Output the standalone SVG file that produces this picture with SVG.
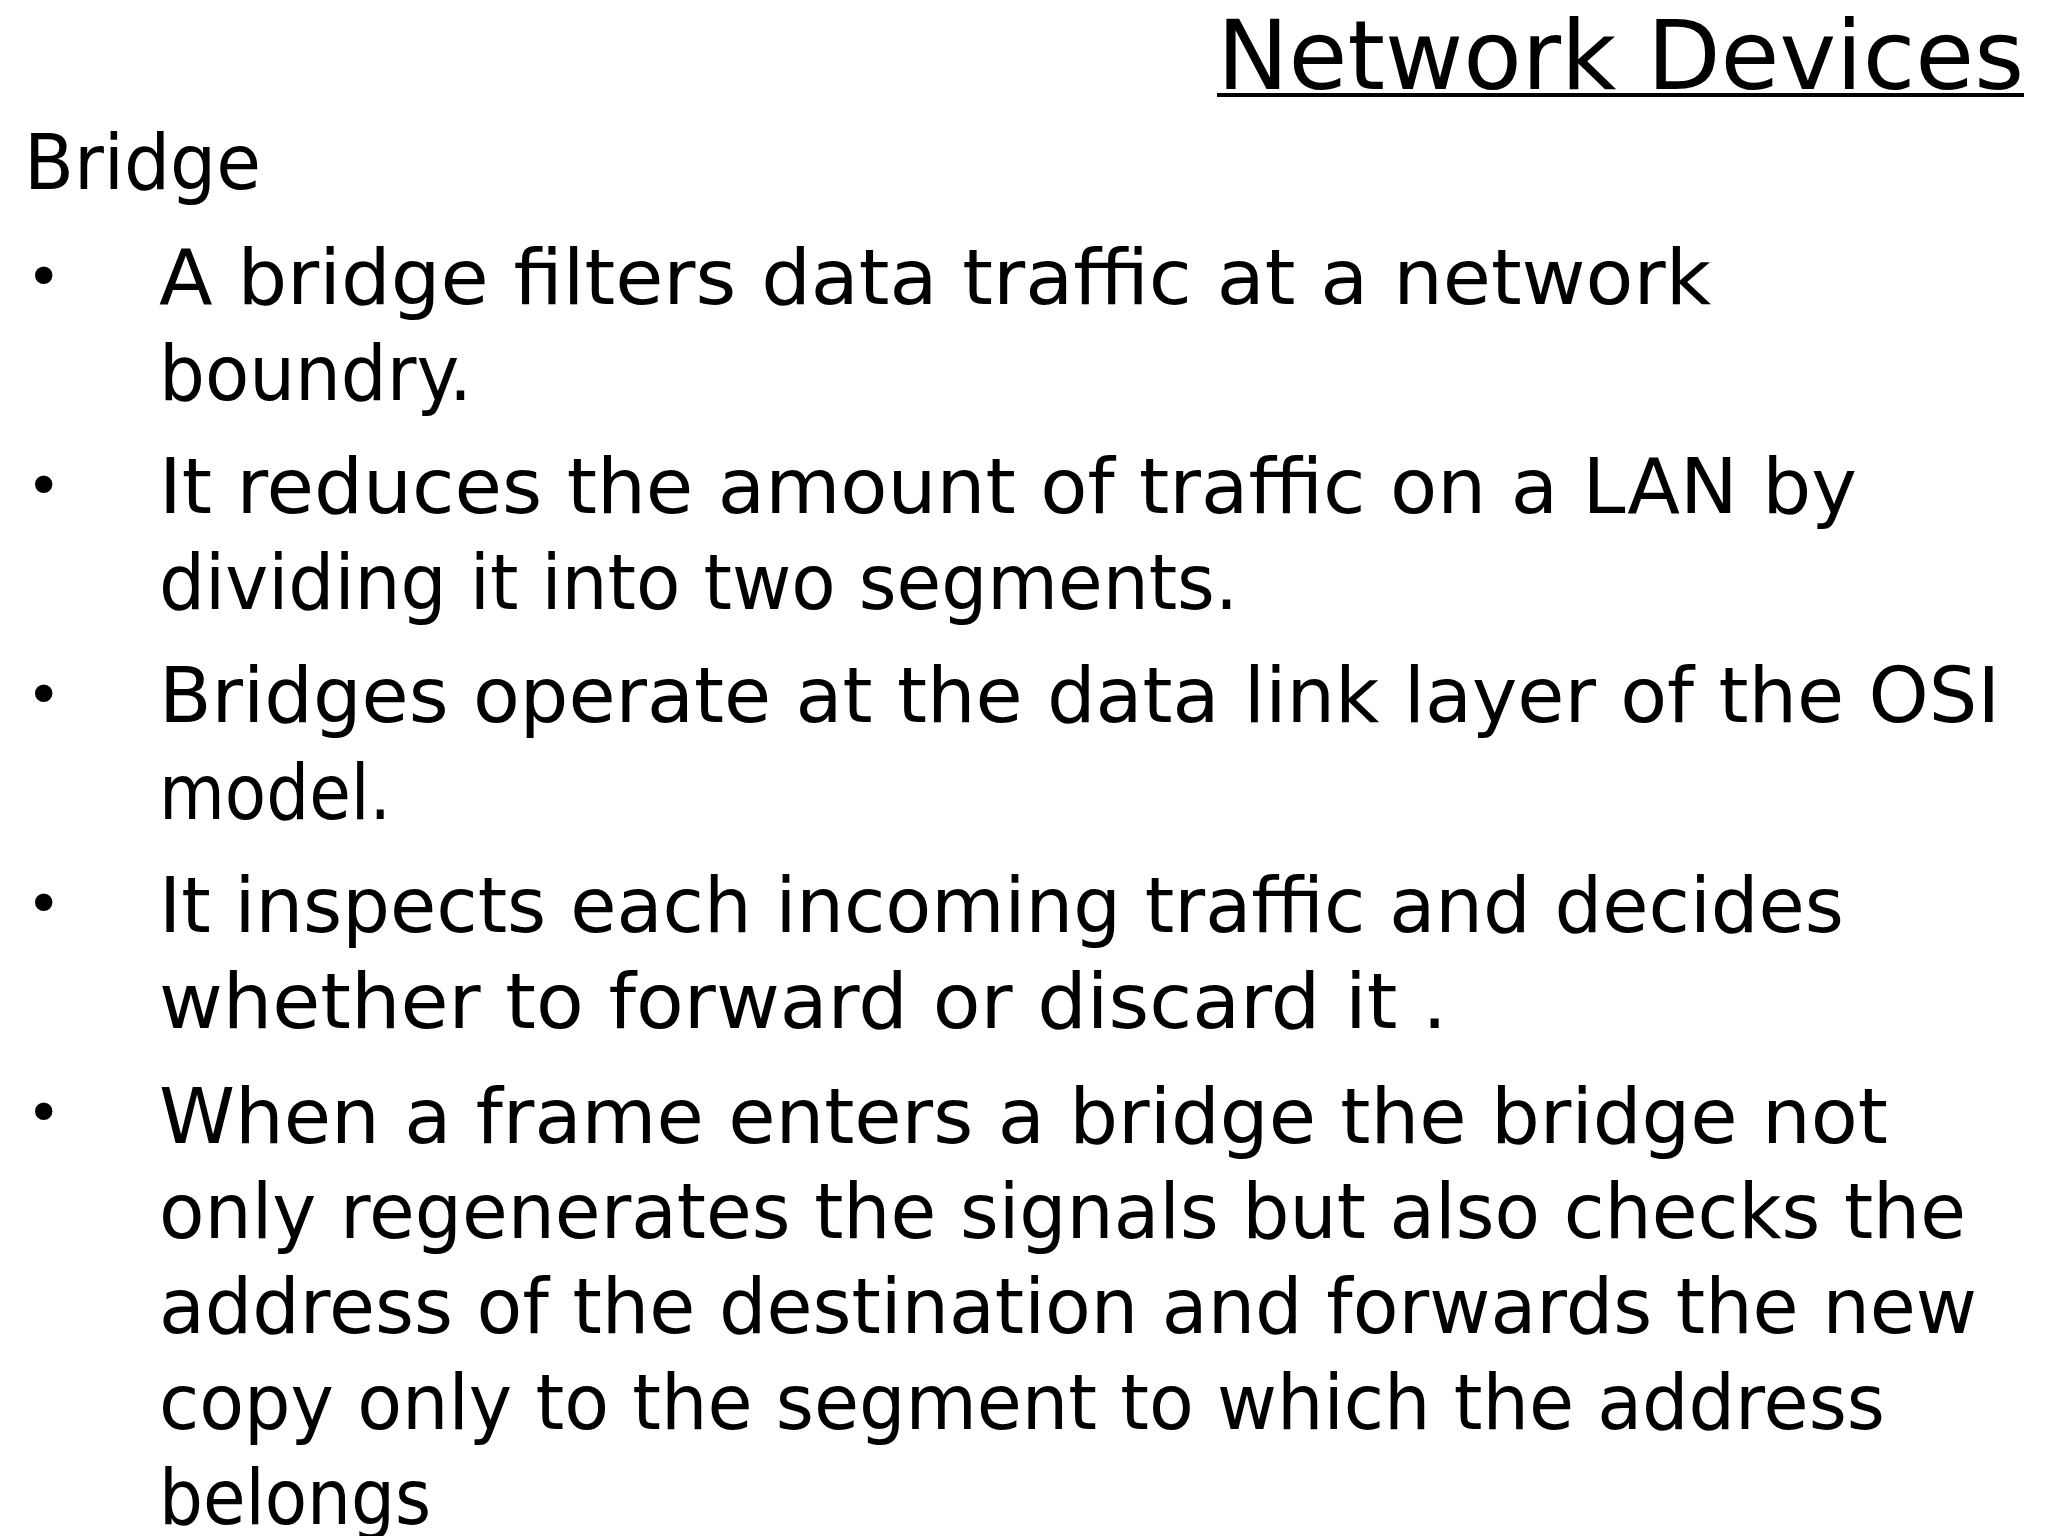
<svg xmlns="http://www.w3.org/2000/svg" width="2048" height="1536" viewBox="0 0 2048 1536" xml:space="preserve">
<style>
text{font-family:"DejaVu Sans","Liberation Sans",sans-serif;fill:#000}
.b{font-size:76px}
.d{font-size:60px}
</style>
<rect width="2048" height="1536" fill="#fff"/>
<text x="1217" y="89" font-size="96" textLength="807" lengthAdjust="spacingAndGlyphs">Network Devices</text>
<rect x="1217" y="93" width="807" height="4" fill="#000"/>
<text x="24" y="189" class="b" textLength="237" lengthAdjust="spacingAndGlyphs">Bridge</text>
<g class="d">
<text x="26" y="298" class="d">•</text>
<text x="26" y="507" class="d">•</text>
<text x="26" y="716" class="d">•</text>
<text x="26" y="925" class="d">•</text>
<text x="26" y="1134" class="d">•</text>
</g>
<g class="b">
<text x="159" y="304" class="b" textLength="1552" lengthAdjust="spacingAndGlyphs">A bridge filters data traffic at a network</text>
<text x="159" y="400" class="b" textLength="313" lengthAdjust="spacingAndGlyphs">boundry.</text>
<text x="159" y="513" class="b" textLength="1698" lengthAdjust="spacingAndGlyphs">It reduces the amount of traffic on a LAN by</text>
<text x="159" y="609" class="b" textLength="1079" lengthAdjust="spacingAndGlyphs">dividing it into two segments.</text>
<text x="159" y="722" class="b" textLength="1841" lengthAdjust="spacingAndGlyphs">Bridges operate at the data link layer of the OSI</text>
<text x="159" y="819" class="b" textLength="232" lengthAdjust="spacingAndGlyphs">model.</text>
<text x="159" y="932" class="b" textLength="1685" lengthAdjust="spacingAndGlyphs">It inspects each incoming traffic and decides</text>
<text x="159" y="1028" class="b" textLength="1288" lengthAdjust="spacingAndGlyphs">whether to forward or discard it  .</text>
<text x="159" y="1143" class="b" textLength="1729" lengthAdjust="spacingAndGlyphs">When a frame enters a bridge  the bridge  not</text>
<text x="159" y="1238" class="b" textLength="1807" lengthAdjust="spacingAndGlyphs">only  regenerates the signals but also checks the</text>
<text x="159" y="1333" class="b" textLength="1818" lengthAdjust="spacingAndGlyphs">address of the destination and forwards the new</text>
<text x="159" y="1429" class="b" textLength="1726" lengthAdjust="spacingAndGlyphs">copy only to the segment to which the address</text>
<text x="159" y="1524" class="b" textLength="272" lengthAdjust="spacingAndGlyphs">belongs</text>
</g>
</svg>
